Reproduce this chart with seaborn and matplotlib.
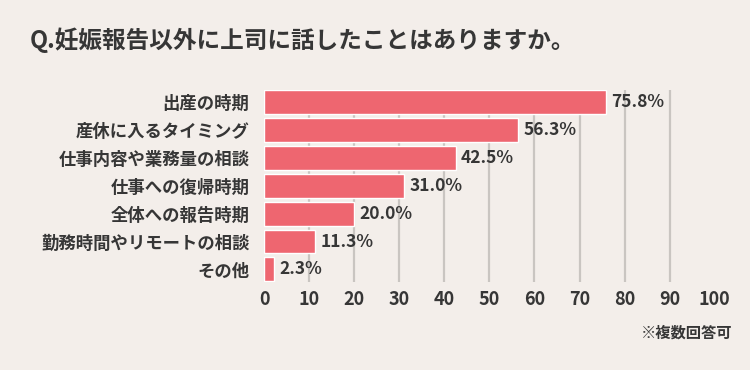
import matplotlib
matplotlib.use('Agg')
import matplotlib.pyplot as plt
import seaborn as sns
import pandas as pd

categories = ['出産の時期', '産休に入るタイミング', '仕事内容や業務量の相談', '仕事への復帰時期',
              '全体への報告時期', '勤務時間やリモートの相談', 'その他']
values = [75.8, 56.3, 42.5, 31.0, 20.0, 11.3, 2.3]
xticks = [0, 10, 20, 30, 40, 50, 60, 70, 80, 90, 100]

df = pd.DataFrame({'item': categories, 'pct': values})

bg = '#F3EEEA'
bar_color = '#EE6670'
text_color = '#363636'

sns.set_style('white')
plt.rcParams['font.family'] = ['Noto Sans CJK JP', 'DejaVu Sans']
plt.rcParams['font.weight'] = 'bold'

fig = plt.figure(figsize=(7.5, 3.7), dpi=100, facecolor=bg)
ax = fig.add_axes([0.352, 0.238, 0.601, 0.52])
ax.set_facecolor(bg)

sns.barplot(data=df, x='pct', y='item', color=bar_color, width=0.86,
            saturation=1, ax=ax, zorder=3)

ax.set_xlim(0, 100)
ax.set_ylim(len(categories) - 0.55, -0.45)
ax.set_xticks(xticks)
ax.set_xlabel('')
ax.set_ylabel('')

# vertical grid lines only inside (10..90)
for t in xticks[1:-1]:
    ax.axvline(t, color='#c9c5c1', lw=1.6, zorder=1)

for s in ax.spines.values():
    s.set_visible(False)
ax.tick_params(axis='both', length=0, colors=text_color)
ax.tick_params(axis='x', labelsize=13, pad=6)
ax.tick_params(axis='y', labelsize=12.5, pad=10.5)
for lbl in ax.get_xticklabels() + ax.get_yticklabels():
    lbl.set_fontweight('bold')

for i, v in enumerate(values):
    ax.text(v + 1.2, i, f'{v:.1f}%', va='center', ha='left',
            fontsize=12.5, fontweight='bold', color=text_color)

fig.text(0.04, 0.89, 'Q.妊娠報告以外に上司に話したことはありますか。',
         fontsize=17, fontweight='bold', color=text_color, va='center')
fig.text(0.977, 0.1, '※複数回答可', fontsize=11, fontweight='bold',
         color=text_color, ha='right', va='center')

fig.savefig('out.png', dpi=100, facecolor=bg)
